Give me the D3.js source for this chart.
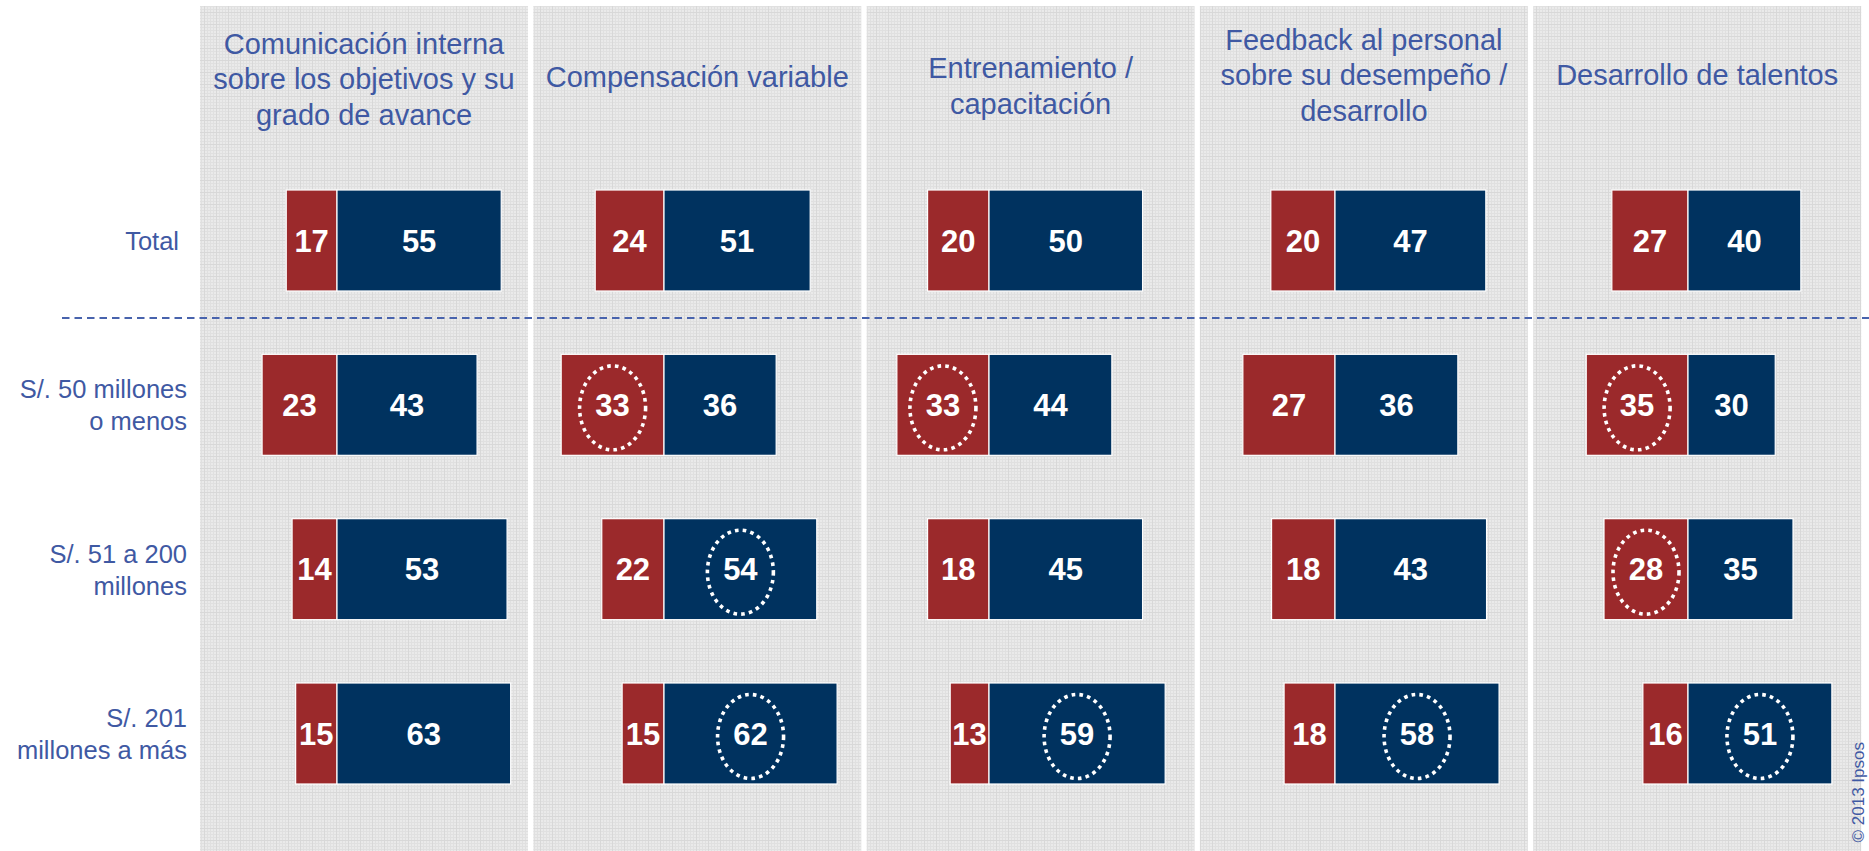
<!DOCTYPE html>
<html>
<head>
<meta charset="utf-8">
<script src="https://cdn.jsdelivr.net/npm/d3@7"></script>
<style>
  html, body { margin: 0; padding: 0; background: #ffffff; }
  svg { display: block; }
  text { font-family: "Liberation Sans", Arial, Helvetica, sans-serif; }
</style>
</head>
<body>
<svg id="chart" width="1869" height="851"></svg>
<script>
// ---------------- DATA ----------------
const categories = [
  ["Comunicación interna", "sobre los objetivos y su", "grado de avance"],
  ["Compensación variable"],
  ["Entrenamiento /", "capacitación"],
  ["Feedback al personal", "sobre su desempeño /", "desarrollo"],
  ["Desarrollo de talentos"]
];
const groups = [
  ["Total"],
  ["S/. 50 millones", "o menos"],
  ["S/. 51 a 200", "millones"],
  ["S/. 201", "millones a más"]
];
// red segment values, per category (rows = groups)
const redValues = [
  [17, 23, 14, 15],
  [24, 33, 22, 15],
  [20, 33, 18, 13],
  [20, 27, 18, 18],
  [27, 35, 28, 16]
];
// blue segment values, per category (rows = groups)
const blueValues = [
  [55, 43, 53, 63],
  [51, 36, 54, 62],
  [50, 44, 45, 59],
  [47, 36, 43, 58],
  [40, 30, 35, 51]
];
// highlighted (dotted circle) values: [category, group, series]
const highlights = [
  [1, 1, "red"], [2, 1, "red"], [4, 1, "red"],
  [1, 2, "blue"], [4, 2, "red"],
  [1, 3, "blue"], [2, 3, "blue"], [3, 3, "blue"], [4, 3, "blue"]
];
const footnote = "© 2013 Ipsos";

// ---------------- LAYOUT ----------------
const W = 1869, H = 851;
const panelLeft = 200, panelStep = 333.3, panelW = 328, panelTop = 6;
const zeroX = [337, 664, 989, 1335, 1688];      // red/blue boundary per panel
const barW  = [215, 215, 215, 215, 189];        // full bar length per panel
const headerMid = [89, 87, 96, 85, 85];         // baseline of the middle header line
const headerLine = 35.5;
const rowLabelRight = [179, 187, 187, 187];
const colors = { red: "#9b292b", blue: "#00325f", text: "#3f59a3", dash: "#4863ad" };

const svg = d3.select("#chart");
const defs = svg.append("defs");

// textured gray background pattern
const pat = defs.append("pattern").attr("id", "mesh")
  .attr("width", 12).attr("height", 12).attr("patternUnits", "userSpaceOnUse");
pat.append("rect").attr("width", 12).attr("height", 12).attr("fill", "#eaeaea");
[0, 3, 6, 9].forEach(p => {
  pat.append("rect").attr("x", p).attr("y", 0).attr("width", 1).attr("height", 12).attr("fill", "#e0e0e0");
  pat.append("rect").attr("x", 0).attr("y", p).attr("width", 12).attr("height", 1).attr("fill", "#e0e0e0");
});
pat.append("rect").attr("x", 0).attr("y", 0).attr("width", 1).attr("height", 12).attr("fill", "#d8d8d8");
pat.append("rect").attr("x", 0).attr("y", 0).attr("width", 12).attr("height", 1).attr("fill", "#d8d8d8");

// scales
const panelX = d3.scaleBand().domain(d3.range(categories.length))
  .range([panelLeft, panelLeft + panelStep * categories.length]).paddingInner(0);
const rowY = d3.scalePoint().domain(d3.range(groups.length)).range([240.5, 733.5]);
const barH = 101;

// panels
svg.append("g").selectAll("rect").data(categories).join("rect")
  .attr("x", (d, i) => panelX(i))
  .attr("y", panelTop)
  .attr("width", panelW)
  .attr("height", H - panelTop)
  .attr("fill", "url(#mesh)");

// headers
categories.forEach((lines, i) => {
  const cx = panelX(i) + panelW / 2;
  const t = svg.append("text")
    .attr("text-anchor", "middle")
    .attr("font-size", 29)
    .attr("fill", colors.text);
  lines.forEach((ln, k) => {
    t.append("tspan").attr("x", cx)
      .attr("y", headerMid[i] + (k - (lines.length - 1) / 2) * headerLine)
      .text(ln);
  });
});

// row labels
groups.forEach((lines, r) => {
  const t = svg.append("text")
    .attr("text-anchor", "end")
    .attr("font-size", 25.5)
    .attr("fill", colors.text);
  lines.forEach((ln, k) => {
    t.append("tspan").attr("x", rowLabelRight[r])
      .attr("y", rowY(r) + 9.5 + (k - (lines.length - 1) / 2) * 32)
      .text(ln);
  });
});

// dashed separator
svg.append("line")
  .attr("x1", 62).attr("x2", W)
  .attr("y1", 318).attr("y2", 318)
  .attr("stroke", colors.dash).attr("stroke-width", 2)
  .attr("stroke-dasharray", "7.5 5");

// bars
const isHi = (c, g, s) => highlights.some(h => h[0] === c && h[1] === g && h[2] === s);
categories.forEach((cat, c) => {
  const share = d3.scaleLinear().domain([0, 1]).range([0, barW[c]]);
  const gPanel = svg.append("g");
  groups.forEach((grp, g) => {
    const r = redValues[c][g], b = blueValues[c][g];
    const tot = r + b;
    const segs = [
      { s: "red", v: r, x0: zeroX[c] - share(r / tot), x1: zeroX[c] },
      { s: "blue", v: b, x0: zeroX[c], x1: zeroX[c] + share(b / tot) }
    ];
    const y0 = rowY(g) - barH / 2;
    segs.forEach(seg => {
      gPanel.append("rect")
        .attr("x", seg.x0).attr("y", y0)
        .attr("width", seg.x1 - seg.x0).attr("height", barH)
        .attr("fill", colors[seg.s])
        .attr("stroke", "#ffffff").attr("stroke-width", 1.2);
      const cx = (seg.x0 + seg.x1) / 2;
      gPanel.append("text")
        .attr("x", cx).attr("y", rowY(g) + 11)
        .attr("text-anchor", "middle")
        .attr("font-size", 31).attr("font-weight", "bold")
        .attr("fill", "#ffffff")
        .text(seg.v);
      if (isHi(c, g, seg.s)) {
        gPanel.append("ellipse")
          .attr("cx", cx).attr("cy", rowY(g) + 3)
          .attr("rx", 33).attr("ry", 42)
          .attr("fill", "none").attr("stroke", "#ffffff")
          .attr("stroke-width", 3.6).attr("stroke-dasharray", "3.6 4.2");
      }
    });
  });
});

// rotated footnote at right edge
svg.append("text")
  .attr("transform", "translate(1864,742) rotate(-90)")
  .attr("text-anchor", "end")
  .attr("font-size", 17)
  .attr("fill", colors.text)
  .text(footnote);
</script>
</body>
</html>
